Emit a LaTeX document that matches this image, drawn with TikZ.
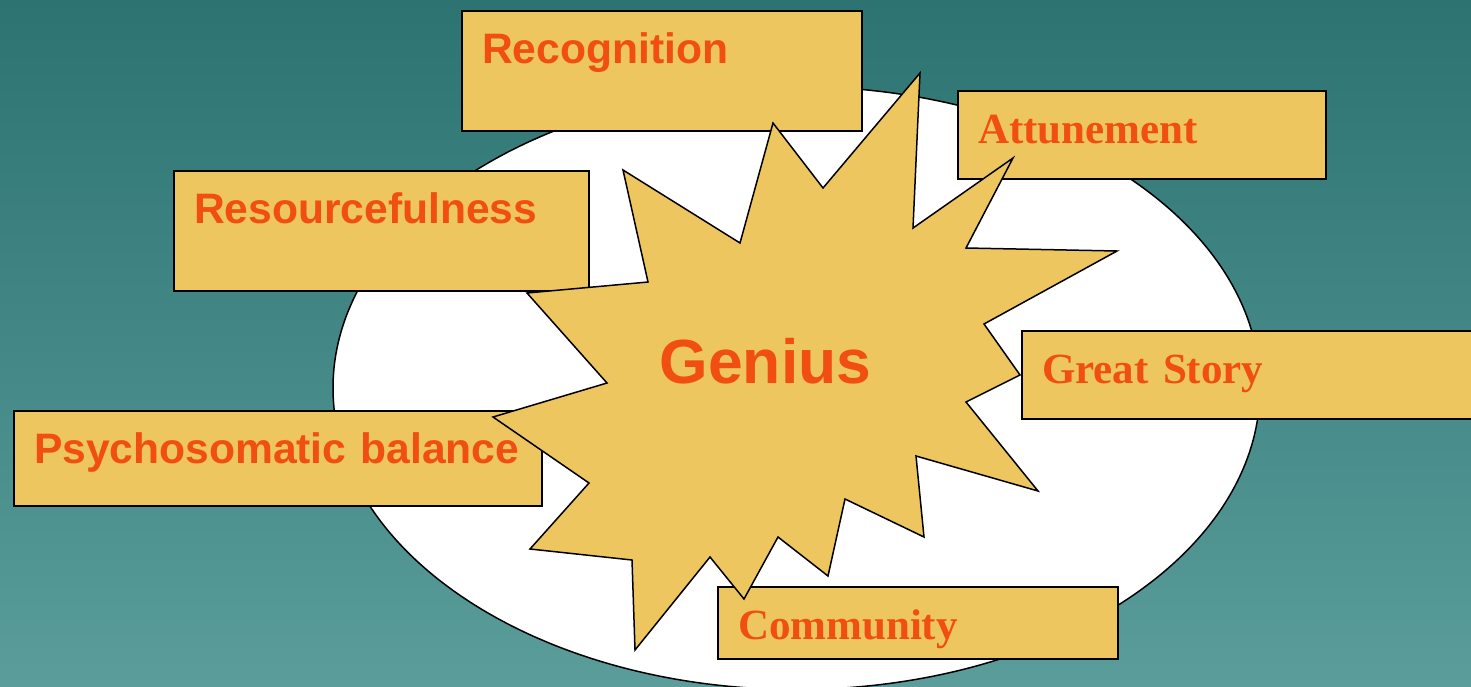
\documentclass[tikz,border=0pt]{standalone}
\usepackage{fontspec}
\setmainfont{Liberation Serif}
\setsansfont{Liberation Sans}
\usepackage{xcolor}
\usetikzlibrary{positioning, calc}

\definecolor{bgtop}{HTML}{2C7371}
\definecolor{bgbottom}{HTML}{5A9D9B}
\definecolor{tagfill}{HTML}{EDC660}
\definecolor{tagtext}{HTML}{F04E12}
\newlength\px
\setlength\px{0.5pt}

\tikzset{
  tag/.style={draw=black, line width=2\px, fill=tagfill, anchor=north west,
    inner xsep=20\px, inner ysep=0pt, text height=52\px, align=left,
    text=tagtext, font=\bfseries\fontsize{21.5}{24}\selectfont},
  tagsans/.style={tag, font=\sffamily\bfseries\fontsize{21.3}{24}\selectfont},
  burst/.style={draw=black, line width=1.5\px, fill=tagfill, line join=miter}
}

\begin{document}
\begin{tikzpicture}[x=0.5pt, y=-0.5pt]
    \useasboundingbox (0,0) rectangle (1471,686);
    \shade[top color=bgtop, bottom color=bgbottom] (0,0) rectangle (1471,686);

    % Ellipse
    \draw[fill=white, line width=1.5\px] (796.5,388) ellipse [x radius=463.5, y radius=301.5];

    % Boxes
    \node[tagsans, text width=360\px, text depth=68\px] (recog) at (461,10) {Recognition};
    \node[tag, text width=328\px, text depth=36\px] (attune) at (957,90) {Attunement};
    \node[tagsans, text width=375\px, text depth=68\px] (resource) at (173,170) {Resourcefulness};
    \node[tag, text width=440\px, text depth=36\px] (story) at (1021,330) {Great Story};
    \node[tagsans, text width=488\px, text depth=43\px] (psycho) at (13,410) {Psychosomatic balance};
    \node[tag, text width=360\px, text depth=20\px] (community) at (717,586) {Community};

    % Star
    \draw[burst] (623,170) -- (740,243) -- (773,123) -- (823,188) -- (920,73)
      -- (913,228) -- (1013,158) -- (966,248) -- (1117,251) -- (984,324)
      -- (1020,375) -- (966,402) -- (1038,491) -- (916,456) -- (924,537)
      -- (845,499) -- (828,576) -- (778,537) -- (744,599) -- (710,557)
      -- (635,650) -- (632,560) -- (530,549) -- (589,483) -- (493,417)
      -- (607,383) -- (527,293) -- (648,282) -- cycle;
    \node[anchor=base, text=tagtext, font=\sffamily\bfseries\fontsize{31.2}{34}\selectfont]
      (genius) at (765.5,383) {Genius};
\end{tikzpicture}
\end{document}
